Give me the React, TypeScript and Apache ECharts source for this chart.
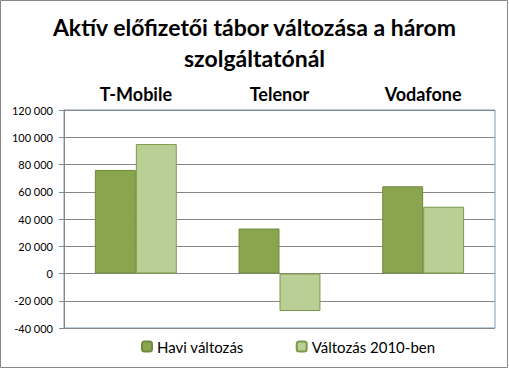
import React, { useEffect, useRef } from "react";
import * as echarts from "echarts";

const categories = ["T-Mobile", "Telenor", "Vodafone"];
const seriesNames = ["Havi változás", "Változás 2010-ben"];
const haviValtozas = [76000, 33000, 64000];
const valtozas2010 = [95000, -27500, 49000];
const titleText = "Aktív előfizetői tábor változása a három\nszolgáltatónál";

const fmt = (v: number) => {
  const s = Math.abs(v).toString().replace(/\B(?=(\d{3})+(?!\d))/g, " ");
  return (v < 0 ? "-" : "") + s;
};

export default function App() {
  const ref = useRef<HTMLDivElement>(null);
  useEffect(() => {
    if (!ref.current) return;
    const chart = echarts.init(ref.current, null, { renderer: "svg" });
    chart.setOption({
      animation: false,
      backgroundColor: "#ffffff",
      textStyle: { fontFamily: "Lato" },
      title: {
        text: titleText,
        left: "center",
        top: 6,
        textStyle: {
          fontFamily: "Lato",
          fontSize: 23,
          fontWeight: "bold",
          color: "#000",
          lineHeight: 31,
        },
      },
      legend: {
        data: seriesNames,
        left: 141,
        top: 339,
        padding: 0,
        itemWidth: 10,
        itemHeight: 10,
        itemGap: 52,
        textStyle: { fontFamily: "Lato", fontSize: 15, color: "#000" },
      },
      grid: {
        left: 64,
        right: 14,
        top: 110,
        bottom: 41,
        show: true,
        borderColor: "#7f9bc1",
        borderWidth: 1,
      },
      xAxis: {
        type: "category",
        data: categories,
        position: "top",
        axisLine: { show: false },
        axisTick: { show: false },
        axisLabel: {
          fontFamily: "Lato",
          fontSize: 18,
          fontWeight: "bold",
          color: "#000",
          margin: 7,
        },
      },
      yAxis: {
        type: "value",
        min: -40000,
        max: 120000,
        interval: 20000,
        axisLine: { show: true, lineStyle: { color: "#868686" } },
        axisTick: { show: true, length: 5, lineStyle: { color: "#868686" } },
        splitLine: { lineStyle: { color: "#868686" } },
        axisLabel: {
          formatter: fmt,
          fontFamily: "Lato",
          fontSize: 11,
          color: "#000",
          margin: 11,
        },
      },
      series: [
        {
          name: seriesNames[0],
          type: "bar",
          data: haviValtozas,
          barGap: "0%",
          barCategoryGap: "43%",
          itemStyle: { color: "#89a54e", borderColor: "#71893f", borderWidth: 1 },
        },
        {
          name: seriesNames[1],
          type: "bar",
          data: valtozas2010,
          itemStyle: { color: "#bacf96", borderColor: "#7a9a47", borderWidth: 1 },
        },
      ],
      graphic: [
        {
          type: "rect",
          shape: { x: 0.5, y: 0.5, width: 507, height: 367 },
          style: { fill: "none", stroke: "#868686", lineWidth: 1 },
          silent: true,
        },
      ],
    });
    return () => chart.dispose();
  }, []);
  return (
    <div
      ref={ref}
      style={{ position: "fixed", left: 0, top: 0, width: 509, height: 369 }}
    />
  );
}
